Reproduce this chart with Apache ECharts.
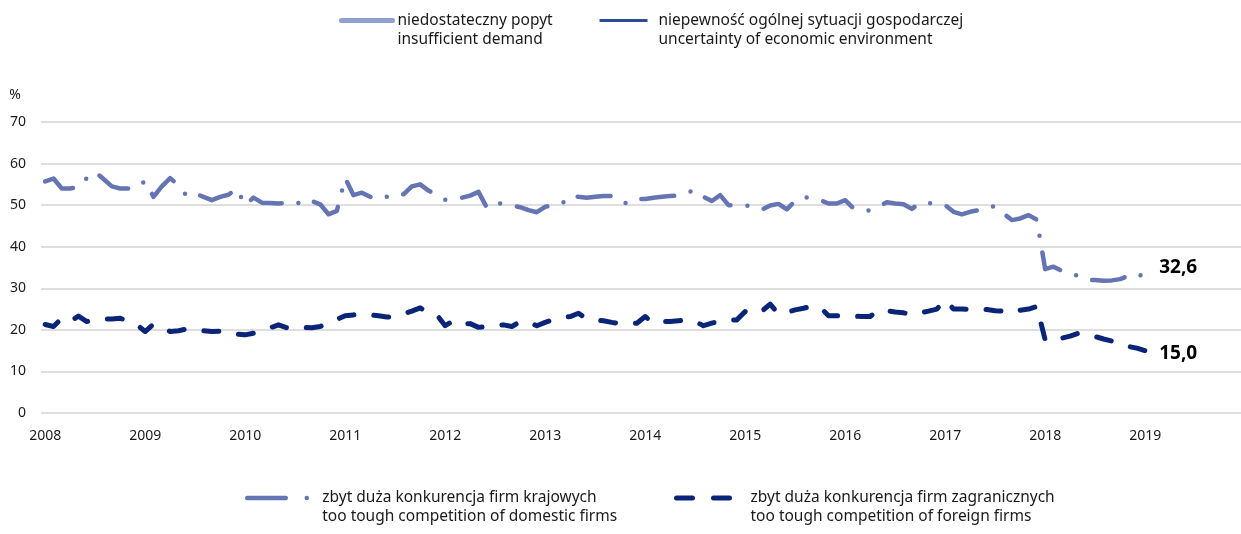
<!DOCTYPE html>
<html>
<head>
<meta charset="utf-8">
<script src="https://cdn.jsdelivr.net/npm/echarts@6/dist/echarts.min.js"></script>
<style>
  html, body { margin: 0; padding: 0; background: #ffffff; }
  #chart { width: 1241px; height: 534px; }
</style>
</head>
<body>
<div id="chart"></div>
<script>
// Years shown on the time axis (monthly observations, January 2008 – December 2019 slots)
const years = [2008, 2009, 2010, 2011, 2012, 2013, 2014, 2015, 2016, 2017, 2018, 2019];
// Value axis ticks, %
const yTicks = [0, 10, 20, 30, 40, 50, 60, 70];

// Series names (Polish / English)
const nameDemand = 'niedostateczny popyt\ninsufficient demand';
const nameUncertainty = 'niepewność ogólnej sytuacji gospodarczej\nuncertainty of economic environment';
const nameDomestic = 'zbyt duża konkurencja firm krajowych\ntoo tough competition of domestic firms';
const nameForeign = 'zbyt duża konkurencja firm zagranicznych\ntoo tough competition of foreign firms';

// Too tough competition of domestic firms, % of indications (Jan 2008 – Jan 2019)
const domestic = [
  55.7, 56.4, 54.0, 54.0, 54.3, 56.5, 58.0, 56.3, 54.5, 54.0, 54.0, 54.2,
  55.8, 52.0, 54.5, 56.5, 54.8, 52.2, 52.8, 52.0, 51.2, 52.0, 52.5, 54.0,
  50.0, 51.8, 50.6, 50.5, 50.4, 50.6, 50.8, 50.0, 51.0, 50.2, 47.8, 48.6,
  56.5, 52.4, 53.0, 52.0, 51.4, 52.0, 52.8, 52.6, 54.5, 55.0, 53.5, 52.5,
  51.3, 51.5, 51.8, 52.3, 53.2, 49.4, 50.6, 50.3, 49.9, 49.5, 48.8, 48.3,
  49.6, 50.0, 50.3, 52.3, 52.0, 51.8, 52.0, 52.2, 52.2, 50.8, 50.4, 51.5,
  51.5, 51.8, 52.0, 52.2, 52.3, 53.0, 53.6, 52.0, 51.0, 52.4, 50.0, 50.0,
  50.0, 49.4, 48.9, 49.9, 50.3, 49.0, 51.0, 52.0, 51.6, 51.2, 50.4, 50.4,
  51.2, 49.2, 48.8, 48.7, 49.6, 50.7, 50.4, 50.2, 49.1, 50.6, 50.5, 50.3,
  50.0, 48.4, 47.8, 48.4, 48.8, 49.7, 49.7, 48.0, 46.4, 46.8, 47.6, 46.5,
  34.6, 35.2, 34.2, 33.4, 33.0, 32.0, 32.0, 31.8, 31.9, 32.2, 33.0, 33.6,
  32.6
];

// Too tough competition of foreign firms, % of indications (Jan 2008 – Jan 2019)
const foreign = [
  21.3, 20.8, 22.8, 22.0, 23.3, 22.0, 22.5, 22.6, 22.6, 22.8, 22.0, 21.2,
  19.6, 21.4, 20.5, 19.6, 19.8, 20.2, 20.2, 19.8, 19.6, 19.7, 19.6, 19.0,
  18.8, 19.2, 19.8, 20.5, 21.2, 20.5, 20.8, 20.6, 20.5, 20.8, 21.7, 22.5,
  23.4, 23.6, 23.8, 23.6, 23.4, 23.1, 23.2, 23.8, 24.5, 25.3, 24.0, 23.6,
  21.0, 22.2, 21.3, 21.5, 20.6, 20.8, 21.0, 21.2, 20.8, 22.0, 21.8, 21.0,
  21.8, 22.5, 23.0, 23.2, 24.0, 22.6, 22.4, 22.2, 21.8, 21.5, 21.5, 21.6,
  23.2, 21.6, 22.0, 22.0, 22.2, 22.4, 22.0, 21.0, 21.6, 22.2, 22.3, 22.4,
  24.4, 23.8, 24.5, 26.2, 23.8, 24.2, 24.8, 25.2, 25.7, 25.4, 23.4, 23.4,
  23.5, 23.3, 23.2, 23.2, 24.8, 24.6, 24.3, 24.1, 23.6, 24.1, 24.5, 25.0,
  27.2, 25.0, 25.0, 24.9, 24.9, 24.9, 24.6, 24.5, 25.2, 24.7, 25.0, 25.6,
  17.6, 18.4, 18.0, 18.5, 19.2, 19.0, 18.4, 17.8, 17.3, 16.7, 16.0, 15.6,
  15.0
];

// Monthly category slots, one per month of each year
const months = [];
years.forEach(function (y) {
  for (let m = 1; m <= 12; m++) months.push(y + '-' + (m < 10 ? '0' + m : m));
});

const FONT = 'Noto Sans';
const TEXT = '#1a1a1a';
const C_DEMAND = '#8fa0cf';
const C_UNCERT = '#2d4a9b';
const C_DOMESTIC = '#6574b2';
const C_FOREIGN = '#0a2577';

// Two-line legend entries; a leading blank line keeps the first text line level with the icon
function legendBlock(name, left, top, width, lineStyle, extraText) {
  return {
    data: [name],
    left: left, top: top,
    padding: 0,
    itemWidth: width, itemHeight: 14,
    selectedMode: false,
    formatter: function (n) { return '\n' + n; },
    lineStyle: lineStyle,
    itemStyle: { opacity: 0 },
    textStyle: Object.assign({
      fontFamily: FONT, fontSize: 15.5, color: TEXT, lineHeight: 19
    }, extraText || {})
  };
}

const endLabel = function (dy) {
  return {
    show: true,
    formatter: function (p) { return Number(p.value).toFixed(1).replace('.', ','); },
    fontFamily: FONT, fontSize: 19, fontWeight: 'bold', color: '#000000',
    distance: 14,
    offset: [0, dy]
  };
};

const chart = echarts.init(document.getElementById('chart'), null, { renderer: 'canvas' });

chart.setOption({
  animation: false,
  backgroundColor: '#ffffff',
  textStyle: { fontFamily: FONT },
  grid: { left: 41, right: 0, top: 122, bottom: 121, containLabel: false },
  legend: [
    legendBlock(nameDemand, 339, -8, 51, { color: C_DEMAND, width: 5, cap: 'round', type: 'solid' }),
    legendBlock(nameUncertainty, 598, -8, 48, { color: C_UNCERT, width: 3, cap: 'butt', type: 'solid' },
      { padding: [0, 0, 0, 6] }),
    legendBlock(nameDomestic, 245, 469.5, 70, { color: C_DOMESTIC, width: 4.5, cap: 'round', type: [38.5, 21, 0, 100] }),
    legendBlock(nameForeign, 674, 469.5, 69, { color: C_FOREIGN, width: 5, cap: 'round', type: [16, 21, 16, 100] })
  ],
  xAxis: {
    type: 'category',
    data: months,
    boundaryGap: true,
    axisLine: { show: false },
    axisTick: { show: false },
    splitLine: { show: false },
    axisLabel: {
      interval: 11,
      formatter: function (v) { return v.slice(0, 4); },
      fontFamily: FONT, fontSize: 14, color: TEXT, margin: 16
    }
  },
  yAxis: {
    type: 'value',
    min: yTicks[0],
    max: yTicks[yTicks.length - 1],
    interval: yTicks[1] - yTicks[0],
    name: '%',
    nameLocation: 'end',
    nameGap: 27,
    nameTextStyle: {
      fontFamily: FONT, fontSize: 14, color: TEXT,
      align: 'right', verticalAlign: 'middle', padding: [0, 20, 0, 0]
    },
    axisLine: { show: false },
    axisTick: { show: false },
    axisLabel: { fontFamily: FONT, fontSize: 14, color: TEXT, margin: 15 },
    splitLine: { show: true, lineStyle: { color: '#dedede', width: 2 } }
  },
  series: [
    { name: nameDemand, type: 'line', data: [], symbol: 'none',
      lineStyle: { color: C_DEMAND, width: 5 }, itemStyle: { color: C_DEMAND } },
    { name: nameUncertainty, type: 'line', data: [], symbol: 'none',
      lineStyle: { color: C_UNCERT, width: 3 }, itemStyle: { color: C_UNCERT } },
    {
      name: nameDomestic, type: 'line', data: domestic,
      symbol: 'none', silent: true,
      itemStyle: { color: C_DOMESTIC },
      lineStyle: { color: C_DOMESTIC, width: 4.5, type: [33, 17, 0, 17], cap: 'round', join: 'round' },
      endLabel: endLabel(-9.5)
    },
    {
      name: nameForeign, type: 'line', data: foreign,
      symbol: 'none', silent: true,
      itemStyle: { color: C_FOREIGN },
      lineStyle: { color: C_FOREIGN, width: 5, type: [15, 20], cap: 'round', join: 'round' },
      endLabel: endLabel(2.5)
    }
  ]
});
</script>
</body>
</html>
